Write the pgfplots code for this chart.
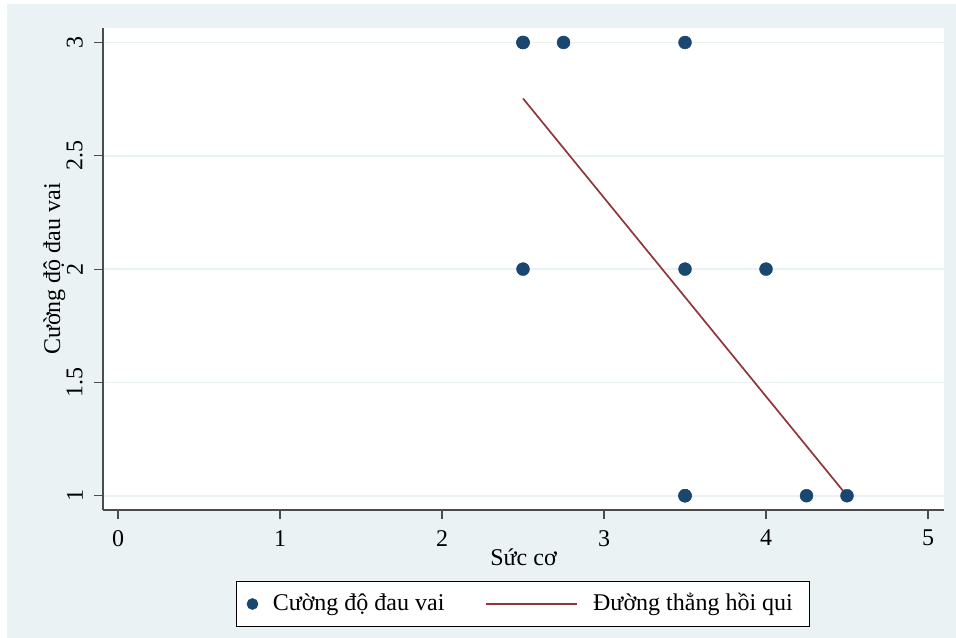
\documentclass[border=0pt]{standalone}
\usepackage{pgfplots}
\pgfplotsset{compat=1.18}
\usepackage{fontspec}
\setmainfont{Liberation Serif}
\definecolor{bgc}{HTML}{EAF2F3}
\definecolor{navy}{HTML}{1A476F}
\definecolor{maroon}{HTML}{90353B}
\pgfplotsset{
  dotlegend/.style={legend image code/.code={\path (0bp,0bp) (16bp,0bp); \draw[##1, mark size=5.5bp, overlay] plot coordinates {(0bp,0bp)};}},
  linelegend/.style={legend image code/.code={\path (0bp,0bp) (102bp,0bp); \draw[##1] (0bp,0bp) -- (91bp,0bp);}},
}
\begin{document}
\fontsize{24bp}{28bp}\selectfont
\begin{tikzpicture}[x=1bp,y=1bp]
\fill[white] (0,0) rectangle (956,638);
\fill[bgc] (7,0) rectangle (956,634);
\begin{axis}[
  at={(103bp,128bp)}, anchor=south west,
  scale only axis, width=841bp, height=482bp,
  xmin=-0.0926, xmax=5.099, ymin=0.937, ymax=3.064,
  axis background/.style={fill=white},
  axis x line*=bottom, axis y line*=left,
  axis line style={black!70, line width=1.1bp, -},
  xtick={0,1,2,3,4,5}, ytick={1,1.5,2,2.5,3},
  tick align=outside, major tick length=9bp,
  tick style={black!70, line width=1.1bp},
  /pgf/number format/assume math mode=true,
  ymajorgrids, major grid style={bgc, line width=1.8bp},
  xticklabel style={inner sep=0pt, anchor=north},
  yticklabel style={inner sep=0pt, rotate=90, anchor=south},
  xticklabel shift=11bp, yticklabel shift=11bp,
  xlabel={Sức cơ}, ylabel={Cường độ đau vai},
  every axis x label/.style={at={(axis description cs:0.5,-0.1156)}, anchor=base},
  every axis y label/.style={at={(axis description cs:-0.0511,0.5)}, rotate=90, anchor=base},
  legend columns=2,
  legend style={at={(axis description cs:0.4988,-0.195)}, anchor=center,
    draw=black, line width=0.6bp, fill=white, inner xsep=16bp, inner ysep=12bp,
    nodes={inner sep=0pt},
    /tikz/every odd column/.append style={column sep=4bp},
    /tikz/every even column/.append style={column sep=41bp}},
]
\addplot[only marks, mark=*, mark size=6.5bp, draw=navy, fill=navy, dotlegend]
  coordinates {(2.5,3) (2.5,3) (2.75,3) (3.5,3) (2.5,2) (3.5,2) (4,2) (3.5,1) (3.5,1) (4.25,1) (4.5,1)};
\addlegendentry{Cường độ đau vai}
\addplot[maroon, line width=1.7bp, no marks, linelegend]
  coordinates {(2.5,2.753) (4.5,1.0)};
\addlegendentry{Đường thẳng hồi qui}
\end{axis}
\end{tikzpicture}
\end{document}
